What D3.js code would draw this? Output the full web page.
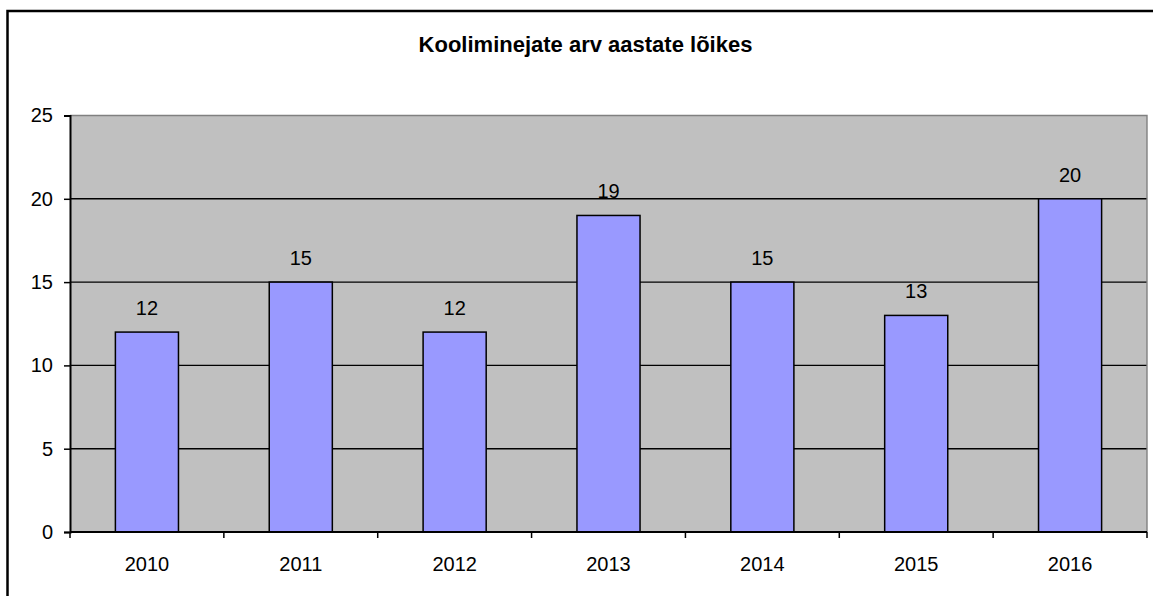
<!DOCTYPE html>
<html>
<head>
<meta charset="utf-8">
<script src="https://cdn.jsdelivr.net/npm/d3@7"></script>
<style>
  body { margin: 0; background: #fff; }
  svg { display: block; font-family: "Liberation Sans", Arial, sans-serif; }
</style>
</head>
<body>
<div id="chart"></div>
<script>
var years = ["2010", "2011", "2012", "2013", "2014", "2015", "2016"];
var counts = [12, 15, 12, 19, 15, 13, 20];
var yTicks = [0, 5, 10, 15, 20, 25];
var title = "Kooliminejate arv aastate lõikes";

var W = 1153, H = 596;
var plot = {left: 70, right: 1147, top: 115.5, bottom: 532};

var svg = d3.select("#chart").append("svg").attr("width", W).attr("height", H);

// outer frame of the chart object
svg.append("rect")
    .attr("x", 7.5).attr("y", 11)
    .attr("width", 1160).attr("height", 600)
    .attr("fill", "#fff").attr("stroke", "#000").attr("stroke-width", 2.5);

svg.append("text")
    .attr("x", 585.5).attr("y", 51.5)
    .attr("text-anchor", "middle")
    .style("font-weight", "bold").style("font-size", "22px")
    .text(title);

var x = d3.scaleBand().domain(years).range([plot.left, plot.right]).padding(0);
var y = d3.scaleLinear().domain([0, 25]).range([plot.bottom, plot.top]);

// plot area background
svg.append("rect")
    .attr("x", plot.left).attr("y", plot.top)
    .attr("width", plot.right - plot.left).attr("height", plot.bottom - plot.top)
    .attr("fill", "#c0c0c0");

// gridlines
svg.append("g").selectAll("line")
    .data(yTicks.filter(d => d > 0 && d < 25))
    .enter().append("line")
    .attr("x1", plot.left).attr("x2", plot.right)
    .attr("y1", d => y(d)).attr("y2", d => y(d))
    .attr("stroke", "#000").attr("stroke-width", 1.4);

// top and right edge of plot area
svg.append("path")
    .attr("d", "M" + plot.left + "," + plot.top + "H" + plot.right + "V" + plot.bottom)
    .attr("fill", "none").attr("stroke", "#808080").attr("stroke-width", 1.4);

// bars
var barW = x.bandwidth() * 0.41;
svg.append("g").selectAll("rect")
    .data(counts)
    .enter().append("rect")
    .attr("x", (d, i) => x(years[i]) + (x.bandwidth() - barW) / 2)
    .attr("y", d => y(d))
    .attr("width", barW)
    .attr("height", d => y(0) - y(d))
    .attr("fill", "#9999ff")
    .attr("stroke", "#000").attr("stroke-width", 1.5);

// value labels
svg.append("g").selectAll("text")
    .data(counts)
    .enter().append("text")
    .attr("x", (d, i) => x(years[i]) + x.bandwidth() / 2)
    .attr("y", d => y(d) - 17)
    .attr("text-anchor", "middle")
    .style("font-size", "20px")
    .text(d => d);

// y axis
var yAxis = d3.axisLeft(y).tickValues(yTicks).tickSize(6).tickPadding(11);
var gy = svg.append("g").attr("transform", "translate(" + plot.left + ",0)").call(yAxis);
gy.select(".domain").attr("stroke", "#000").attr("stroke-width", 2);
gy.selectAll(".tick line").attr("stroke", "#000").attr("stroke-width", 1.5);
gy.selectAll(".tick text").style("font-size", "20px").attr("fill", "#000")
    .attr("font-family", "Liberation Sans, Arial, sans-serif");

// x axis: ticks at category boundaries
var gx = svg.append("g").attr("transform", "translate(0," + plot.bottom + ")");
gx.append("line")
    .attr("x1", plot.left).attr("x2", plot.right)
    .attr("stroke", "#000").attr("stroke-width", 2);
var bounds = years.map(d => x(d)).concat([plot.right]);
gx.selectAll(".bt").data(bounds).enter().append("line")
    .attr("class", "bt")
    .attr("x1", d => d).attr("x2", d => d)
    .attr("y1", 0).attr("y2", 6)
    .attr("stroke", "#000").attr("stroke-width", 1.5);
gx.selectAll(".lbl").data(years).enter().append("text")
    .attr("class", "lbl")
    .attr("x", d => x(d) + x.bandwidth() / 2)
    .attr("y", 38.5)
    .attr("text-anchor", "middle")
    .style("font-size", "20px")
    .text(d => d);
</script>
</body>
</html>
